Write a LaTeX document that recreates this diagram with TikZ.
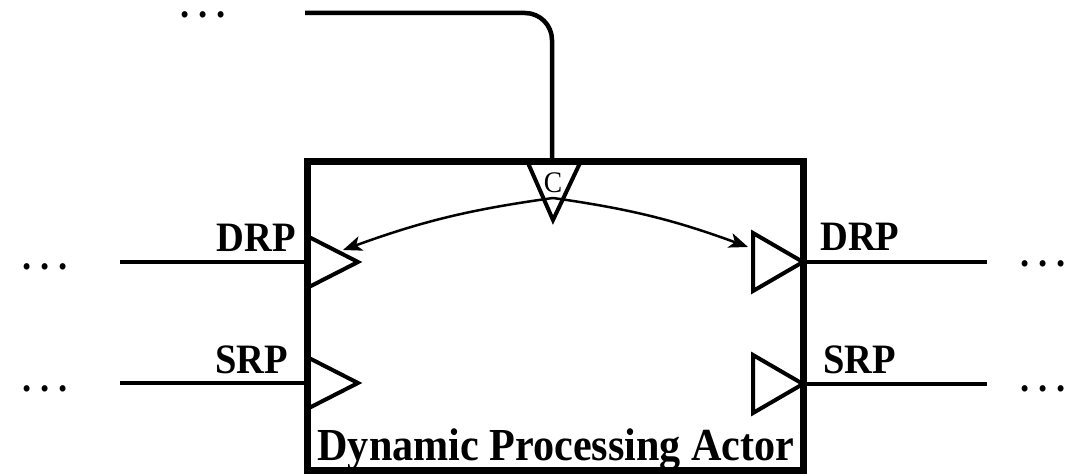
\documentclass[tikz,border=0pt]{standalone}
\usepackage{fontspec}
\setmainfont{Liberation Serif}[FakeStretch=0.92]
\usetikzlibrary{arrows.meta}
\begin{document}
\begin{tikzpicture}[x=1bp,y=-1bp,
  wire/.style={line width=4.5bp},
  portshape/.style={line width=4bp, line join=miter},
  ctrl/.style={line width=2.5bp, -{Stealth[length=19bp,width=15bp,inset=5bp]}},
  lbl/.style={font=\fontsize{42}{42}\selectfont\bfseries, inner sep=0pt},
  dots/.style={font=\fontsize{40}{40}\selectfont\bfseries, inner sep=0pt, anchor=base, text height=6bp, text depth=0pt},
]
\useasboundingbox (0,0) rectangle (1081,474);

% actor body
\node[draw, line width=7bp, minimum width=496bp, minimum height=308bp, inner sep=0pt] (actor) at (555,316) {};
\node[font=\fontsize{46}{46}\selectfont\bfseries, inner sep=0pt, anchor=base] (title) at (556,460) {Dynamic Processing Actor};

% input ports (left side)
\coordinate (drpIn) at (307,262);
\coordinate (srpIn) at (307,383);
\draw[portshape] (307,236) -- (358,262) -- (307,288);
\draw[portshape] (307,357) -- (358,383) -- (307,409);
\coordinate (drpInTip) at (343,250);

% output ports (right side)
\coordinate (drpOut) at (803,262);
\coordinate (srpOut) at (803,384);
\draw[portshape] (803,262) -- (753,233) -- (753,291) -- cycle;
\draw[portshape] (803,384) -- (753,355) -- (753,413) -- cycle;
\coordinate (drpOutTip) at (748,247);

% control port
\draw[portshape] (528,163) -- (580,163) -- (553,220) -- cycle;
\node[font=\fontsize{30}{30}\selectfont, inner sep=0pt] (cport) at (553,183) {C};
\coordinate (csrc) at (553,198);
\coordinate (ctop) at (552,158);
\coordinate (cfeed) at (305,13);

% external wires
\coordinate (drpSrc) at (120,262);
\coordinate (srpSrc) at (120,383);
\coordinate (drpDst) at (987,262);
\coordinate (srpDst) at (987,384);
\draw[wire] (drpSrc) -- (drpIn);
\draw[wire] (srpSrc) -- (srpIn);
\draw[wire] (drpOut) -- (drpDst);
\draw[wire] (srpOut) -- (srpDst);
\draw[wire, rounded corners=27bp] (ctop) |- (cfeed);

% control arrows
\draw[ctrl] (csrc) to[bend right=6] (drpInTip);
\draw[ctrl] (csrc) to[bend left=6] (drpOutTip);

% port labels
\node[lbl, anchor=base east] (lDrp) at (296,252) {DRP};
\node[lbl, anchor=base east] (lSrp) at (288,374) {SRP};
\node[lbl, anchor=base west] (rDrp) at (820,251) {DRP};
\node[lbl, anchor=base west] (rSrp) at (823,374) {SRP};

% continuation marks
\node[dots] (dTop) at (203,18) {.\ .\ .};
\node[dots] (dL1) at (45,270) {.\ .\ .};
\node[dots] (dL2) at (45,392) {.\ .\ .};
\node[dots] (dR1) at (1043,267) {.\ .\ .};
\node[dots] (dR2) at (1043,392) {.\ .\ .};
\end{tikzpicture}
\end{document}
